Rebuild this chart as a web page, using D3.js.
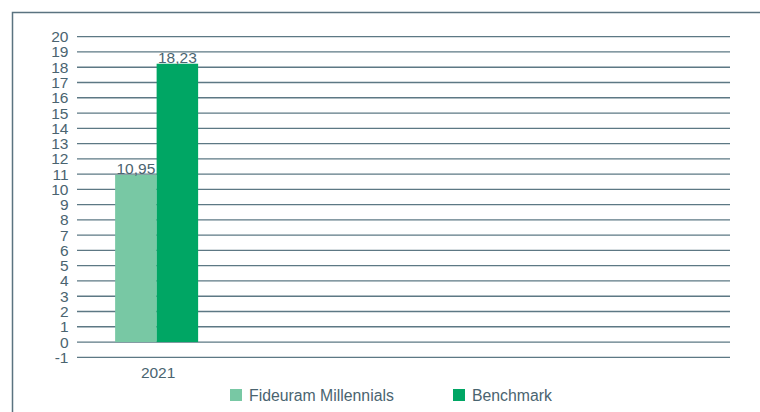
<!DOCTYPE html>
<html><head><meta charset="utf-8">
<script src="https://cdn.jsdelivr.net/npm/d3@7"></script>
<style>body{margin:0;background:#fff}svg{display:block}text{font-family:"Liberation Sans",Arial,sans-serif}</style>
</head><body>
<script>
const categories = ["2021"];
const slotCount = 4;
const seriesNames = ["Fideuram Millennials", "Benchmark"];
const fideuram = [10.95];
const benchmark = [18.23];
const valueLabels = [["10,95"], ["18,23"]];
const yTicks = [-1,0,1,2,3,4,5,6,7,8,9,10,11,12,13,14,15,16,17,18,19,20];
const colors = ["#78c8a4", "#00a664"];

const W = 760, H = 412;
const svg = d3.select("body").append("svg").attr("width", W).attr("height", H);
const textColor = "#4a6470";
const fs = 15.5;

svg.append("rect").attr("x", 12.5).attr("y", 12.5).attr("width", 800).attr("height", 450)
  .attr("fill", "none").attr("stroke", "#5a7380").attr("stroke-width", 1.5);

const x0 = 77, x1 = 730;
const y = d3.scaleLinear().domain([-1, 20]).range([357.3, 36.7]);
const slots = d3.scaleBand().domain(d3.range(slotCount)).range([x0, x1]).paddingInner(0).paddingOuter(0);
const inner = d3.scaleBand().domain(d3.range(seriesNames.length)).range([0, 83]);

svg.append("g").selectAll("line").data(yTicks).join("line")
  .attr("x1", x0).attr("x2", x1).attr("y1", d => y(d)).attr("y2", d => y(d))
  .attr("stroke", "#5d7884").attr("stroke-width", 1.3);

svg.append("g").selectAll("text").data(yTicks).join("text")
  .attr("x", 68.5).attr("y", d => y(d) + 5.5).attr("text-anchor", "end")
  .attr("font-size", fs).attr("fill", textColor).text(d => d);

const series = [fideuram, benchmark];
categories.forEach((c, ci) => {
  const cx = slots(ci) + slots.bandwidth() / 2 - 2;
  const left = cx - 41.5;
  series.forEach((vals, si) => {
    const v = vals[ci];
    const bx = left + inner(si);
    svg.append("rect").attr("x", bx).attr("width", inner.bandwidth())
      .attr("y", y(Math.max(0, v))).attr("height", Math.abs(y(v) - y(0)))
      .attr("fill", colors[si]);
    svg.append("text").attr("x", bx + inner.bandwidth() / 2).attr("y", y(v) - 1)
      .attr("text-anchor", "middle").attr("font-size", fs).attr("fill", textColor)
      .text(valueLabels[si][ci]);
  });
  svg.append("text").attr("x", cx + 1.5).attr("y", 378).attr("text-anchor", "middle")
    .attr("font-size", fs).attr("fill", textColor).text(c);
});

const legendX = [230, 453];
seriesNames.forEach((n, i) => {
  svg.append("rect").attr("x", legendX[i]).attr("y", 389).attr("width", 12).attr("height", 12).attr("fill", colors[i]);
  svg.append("text").attr("x", legendX[i] + 19).attr("y", 400.5).attr("font-size", 15.8)
    .attr("fill", textColor).text(n);
});
</script>
</body></html>
